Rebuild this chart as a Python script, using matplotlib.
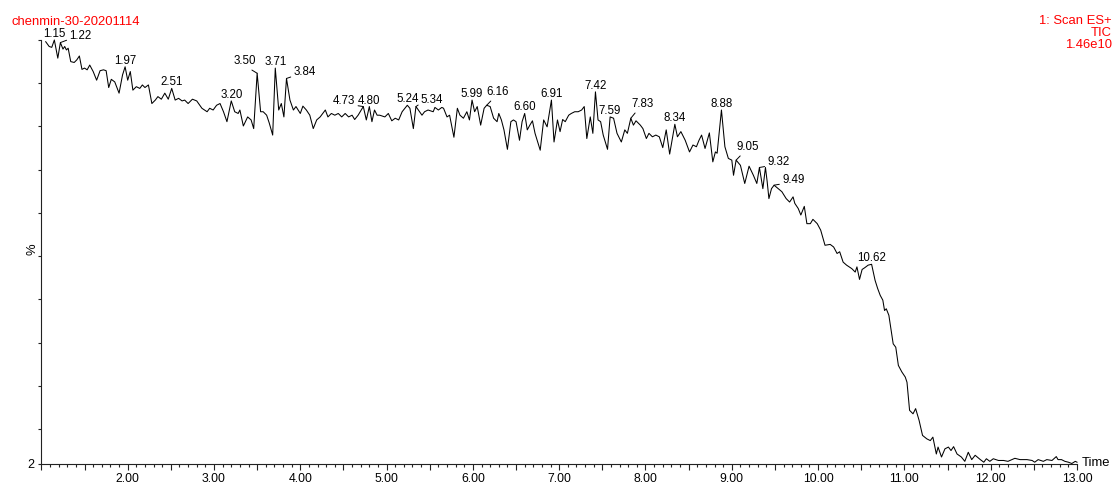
import numpy as np
import matplotlib
matplotlib.use('Agg')
import matplotlib.pyplot as plt
from matplotlib.ticker import MultipleLocator, FuncFormatter

plt.rcParams['font.family'] = ['Liberation Sans', 'DejaVu Sans']

# retention time (min) and relative intensity (%)
rt = [1.05, 1.09, 1.12, 1.15, 1.19, 1.22, 1.25, 1.27, 1.29, 1.31, 1.34, 1.38, 1.41, 1.44,
      1.47, 1.50, 1.53, 1.56, 1.60, 1.64, 1.68, 1.72, 1.75, 1.78, 1.81, 1.85, 1.90, 1.94,
      1.97, 2.00, 2.03, 2.06, 2.10, 2.14, 2.17, 2.20, 2.24, 2.28, 2.32, 2.35, 2.39, 2.43,
      2.47, 2.51, 2.55, 2.59, 2.63, 2.66, 2.70, 2.75, 2.80, 2.86, 2.92, 2.95, 2.99, 3.03,
      3.07, 3.11, 3.15, 3.20, 3.24, 3.28, 3.30, 3.34, 3.39, 3.43, 3.46, 3.50, 3.54, 3.57,
      3.61, 3.64, 3.68, 3.71, 3.75, 3.78, 3.81, 3.84, 3.88, 3.92, 3.95, 4.00, 4.03, 4.07,
      4.11, 4.15, 4.19, 4.23, 4.29, 4.32, 4.36, 4.40, 4.44, 4.48, 4.52, 4.56, 4.60, 4.63,
      4.67, 4.73, 4.765, 4.80, 4.83, 4.86, 4.89, 4.92, 4.98, 5.02, 5.06,
      5.10, 5.14, 5.18, 5.24, 5.27, 5.31, 5.34, 5.41, 5.44, 5.48, 5.54, 5.56, 5.60, 5.64,
      5.66, 5.70, 5.73, 5.78, 5.82, 5.85, 5.89, 5.93, 5.96, 5.99, 6.02, 6.05, 6.09, 6.13,
      6.16, 6.20, 6.24, 6.28, 6.30, 6.33, 6.36, 6.40, 6.44, 6.47, 6.50, 6.54, 6.57, 6.60,
      6.63, 6.66, 6.69, 6.72, 6.78, 6.82, 6.86, 6.91, 6.94, 6.98, 7.01, 7.04, 7.07, 7.11,
      7.14, 7.18, 7.22, 7.26, 7.29, 7.32, 7.36, 7.39, 7.42, 7.45, 7.48, 7.51, 7.56, 7.59,
      7.63, 7.67, 7.72, 7.76, 7.79, 7.83, 7.86, 7.89, 7.94, 7.97, 8.01, 8.04, 8.08, 8.12,
      8.16, 8.20, 8.24, 8.28, 8.34, 8.37, 8.41, 8.46, 8.51, 8.55, 8.59, 8.62, 8.65, 8.69,
      8.74, 8.78, 8.81, 8.83, 8.88,
      8.92, 8.96, 9.00, 9.02, 9.05, 9.10, 9.15, 9.20, 9.25, 9.29, 9.32, 9.36, 9.39, 9.41,
      9.43, 9.46, 9.49, 9.58, 9.63, 9.67, 9.71, 9.73, 9.77, 9.80, 9.84, 9.87, 9.91, 9.94,
      9.99, 10.03, 10.08, 10.14, 10.18, 10.22, 10.25, 10.29, 10.33, 10.39, 10.43, 10.45,
      10.48, 10.51, 10.54, 10.58, 10.62,
      10.66, 10.69, 10.72, 10.75, 10.77, 10.79, 10.82, 10.84, 10.87, 10.90, 10.93, 10.97,
      11.01, 11.03, 11.06, 11.10, 11.13, 11.17, 11.21, 11.26, 11.30, 11.33, 11.37, 11.39,
      11.43, 11.47, 11.51, 11.54, 11.57, 11.61, 11.66, 11.70, 11.74, 11.78, 11.82, 11.88,
      11.92, 11.95, 11.99, 12.03, 12.09, 12.15, 12.20, 12.28, 12.34, 12.42, 12.48, 12.51,
      12.55, 12.61, 12.65, 12.71, 12.76, 12.78, 12.82, 12.86, 12.90, 12.94, 12.98, 13.00]

pct = [99.6, 98.5, 98.3, 100.0, 95.8, 99.4, 97.9, 98.5, 97.7, 98.1, 95.0, 94.8, 95.4, 96.3,
       93.2, 93.5, 93.1, 94.2, 92.7, 90.7, 92.9, 93.1, 92.9, 89.0, 90.9, 90.3, 87.7, 91.9,
       93.8, 90.7, 92.7, 88.4, 89.2, 88.8, 89.6, 89.0, 89.6, 85.3, 86.1, 86.9, 86.3, 87.7,
       86.3, 88.8, 86.1, 86.5, 85.9, 86.1, 85.3, 86.3, 85.9, 84.2, 83.4, 84.2, 83.8, 84.9,
       85.3, 83.4, 81.1, 85.9, 83.4, 83.0, 83.8, 80.1, 82.2, 81.5, 79.5, 92.3, 83.4, 83.4,
       82.6, 80.8, 78.0, 93.5, 83.8, 85.3, 82.2, 91.1, 86.1, 83.8, 84.6, 83.0, 84.7, 83.8,
       82.6, 79.5, 81.5, 82.2, 83.8, 82.2, 83.0, 82.6, 83.0, 82.2, 83.0, 82.2, 82.6, 81.6,
       82.6, 84.6, 81.5, 84.6, 81.1, 83.8, 82.6, 82.6, 82.2, 83.0, 81.3,
       81.9, 81.5, 83.4, 84.9, 84.2, 79.5, 84.6, 82.6, 83.4, 83.8, 83.4, 84.4, 83.8, 84.4,
       84.2, 82.2, 82.6, 77.5, 84.2, 82.6, 81.9, 83.4, 81.5, 86.1, 83.4, 84.6, 80.3, 84.2,
       84.9, 84.6, 81.9, 81.1, 83.0, 81.5, 79.2, 74.7, 81.1, 81.5, 81.1, 76.8, 81.1, 83.0,
       79.2, 80.3, 81.3, 78.4, 74.5, 81.5, 79.9, 86.1, 76.4, 81.5, 78.8, 81.6, 81.1, 82.6,
       83.0, 83.4, 83.4, 83.8, 84.6, 77.2, 82.2, 78.4, 88.0, 81.5, 81.1, 78.0, 74.7, 82.2,
       81.9, 78.4, 76.4, 79.2, 78.4, 81.9, 80.3, 81.3, 80.3, 79.5, 77.2, 78.4, 77.6, 78.0,
       77.6, 75.1, 79.2, 73.6, 80.5, 77.6, 78.8, 76.8, 74.1, 75.7, 75.3, 76.8, 78.0, 74.9,
       78.5, 71.8, 74.1, 73.8, 83.8,
       75.3, 72.6, 72.2, 68.7, 72.2, 71.0, 66.8, 70.8, 68.7, 66.8, 70.5, 65.6, 70.5, 67.2,
       63.3, 65.6, 66.4, 64.9, 63.3, 62.5, 63.7, 62.2, 61.0, 59.5, 61.5, 57.5, 57.5, 58.5,
       57.5, 56.0, 52.5, 52.7, 52.1, 50.6, 51.0, 48.6, 47.9, 47.1, 46.3, 47.5,
       44.6, 46.9, 47.3, 47.9, 48.1,
       44.4, 42.5, 40.9, 39.8, 37.4, 37.8, 36.3, 33.6, 29.7, 28.9, 24.7, 23.2,
       22.0, 20.8, 14.3, 13.5, 14.7, 12.0, 8.5, 7.7, 7.3, 8.1, 4.2, 5.8,
       3.5, 5.4, 5.8, 5.0, 5.9, 4.2, 3.5, 2.5, 4.6, 2.9, 3.9, 2.9,
       2.3, 3.1, 2.5, 3.1, 2.7, 2.7, 2.5, 3.2, 2.9, 2.9, 2.7, 2.3,
       2.9, 2.5, 2.9, 2.7, 3.6, 2.9, 2.9, 2.5, 2.3, 2.0, 2.5, 2.3]

peak_labels = ['1.15', '1.22', '1.97', '2.51', '3.20', '3.50', '3.71', '3.84', '4.73',
               '4.80', '5.24', '5.34', '5.99', '6.16', '6.60', '6.91', '7.42', '7.59',
               '7.83', '8.34', '8.88', '9.05', '9.32', '9.49', '10.62']

# label placement: (dx, dy) in pixels from the peak, alignment, leader anchor
label_pos = {
    '1.22': (9, 4, 'left', (0, 0.2)),
    '3.50': (-12, 9, 'center', (0.6, 0)),
    '3.84': (7, 3, 'left', (0, 0.2)),
    '4.73': (-8, 3, 'right', (1, 0.1)),
    '5.34': (5, 4, 'left', (0, 0.2)),
    '6.16': (0, 10, 'left', (0.3, 0)),
    '7.83': (1, 11, 'left', (0.25, 0)),
    '9.05': (0, 10, 'left', (0.3, 0)),
    '9.32': (8, 2, 'left', (0, 0.2)),
    '9.49': (8, 2, 'left', (0, 0.2)),
}

rt_arr = np.array(rt)
pct_arr = np.array(pct)

fig = plt.figure(figsize=(11.18, 4.83), dpi=100)
ax = fig.add_axes([41.4 / 1118, 19.5 / 483, 1035.6 / 1118, 423.5 / 483])

ax.plot(rt_arr, pct_arr, color='black', lw=0.75, clip_on=False)

ax.set_xlim(1.0, 13.0)
ax.set_ylim(2, 100)

for s in ['top', 'right']:
    ax.spines[s].set_visible(False)
for s in ['left', 'bottom']:
    ax.spines[s].set_linewidth(0.8)
    ax.spines[s].set_color('#222222')

ax.xaxis.set_major_locator(MultipleLocator(0.5))
ax.xaxis.set_minor_locator(MultipleLocator(0.1))
ax.xaxis.set_major_formatter(FuncFormatter(
    lambda v, p: '%.2f' % v if abs(v - round(v)) < 1e-6 and v > 1.5 else ''))
ax.tick_params(axis='x', which='major', length=4, width=0.8, pad=3, labelsize=8.8,
               direction='out', color='#222222')
ax.tick_params(axis='x', which='minor', length=2.2, width=0.8, direction='out', color='#222222')

ax.set_yticks([2, 10, 20, 30, 40, 50, 60, 70, 80, 90, 100])
ax.set_yticklabels(['2', '', '', '', '', '', '', '', '', '', ''])
ax.tick_params(axis='y', which='major', length=2.5, width=0.8, pad=2.5, labelsize=9,
               direction='out', color='#222222')

ax.text(-8.5 / 1035.6, 0.505, '%', rotation=90, transform=ax.transAxes,
        ha='center', va='center', fontsize=9.4)
ax.text(1.0, 0.0, 'Time', transform=ax.transAxes, ha='left', va='center', fontsize=9.4)
ax.texts[-1].set_position((1.0 + 5 / 1035.6, 0.0))

# peak annotations
for lab in peak_labels:
    t = float(lab)
    i = int(np.argmin(np.abs(rt_arr - t)))
    x0, y0 = rt_arr[i], pct_arr[i]
    if lab in label_pos:
        dx, dy, ha, rp = label_pos[lab]
        ax.annotate(lab, xy=(x0, y0), xytext=(dx, dy), textcoords='offset pixels',
                    ha=ha, va='baseline', fontsize=8.3, annotation_clip=False,
                    arrowprops=dict(arrowstyle='-', color='black', lw=0.7,
                                    shrinkA=0, shrinkB=0, relpos=rp))
    else:
        ax.annotate(lab, xy=(x0, y0), xytext=(0, 3), textcoords='offset pixels',
                    ha='center', va='baseline', fontsize=8.3, annotation_clip=False)

red = '#ff0000'
fig.text(12 / 1118, 1 - 25 / 483, 'chenmin-30-20201114', color=red, fontsize=9.4,
         ha='left', va='baseline')
fig.text(1112 / 1118, 1 - 24 / 483, '1: Scan ES+', color=red, fontsize=9.4,
         ha='right', va='baseline')
fig.text(1112 / 1118, 1 - 36.3 / 483, 'TIC', color=red, fontsize=9.4,
         ha='right', va='baseline')
fig.text(1112 / 1118, 1 - 48.5 / 483, '1.46e10', color=red, fontsize=9.4,
         ha='right', va='baseline')

fig.savefig('out.png', dpi=100)
